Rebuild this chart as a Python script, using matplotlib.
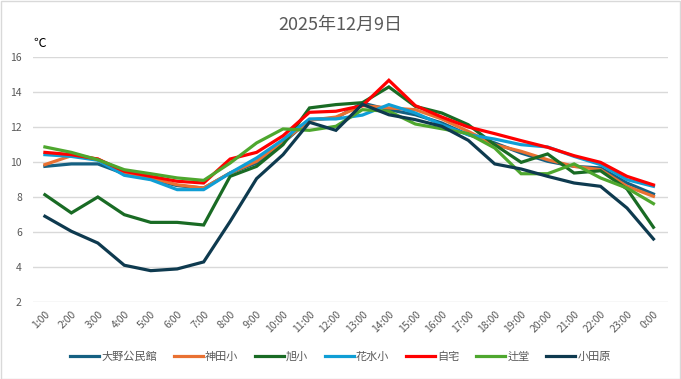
import matplotlib.pyplot as plt
import numpy as np

plt.rcParams['font.family'] = ['Noto Sans CJK JP', 'DejaVu Sans']

hours = [f"{h}:00" for h in range(1, 24)] + ["0:00"]

oono = [9.75, 9.89, 9.89, 9.33, 9.03, 8.65, 8.51, 9.37, 9.94, 11.09, 12.42, 12.51,
        13.37, 12.99, 12.7, 12.23, 11.56, 11.09, 10.51, 10.04, 9.75, 9.66, 8.8, 8.17]
kanda = [9.85, 10.36, 10.17, 9.41, 9.09, 8.7, 8.51, 9.37, 10.04, 11.18, 12.38, 12.57,
         13.22, 13.09, 12.99, 12.46, 11.75, 10.99, 10.61, 10.13, 9.75, 9.56, 8.61, 8.04]
asahi = [8.13, 7.09, 8.0, 6.99, 6.55, 6.55, 6.4, 9.18, 9.75, 10.99, 13.09, 13.28,
         13.39, 14.29, 13.18, 12.8, 12.13, 10.99, 9.98, 10.46, 9.37, 9.5, 8.46, 6.27]
hanamizu = [10.42, 10.32, 10.1, 9.24, 8.99, 8.42, 8.42, 9.37, 10.23, 11.28, 12.46, 12.46,
            12.68, 13.28, 12.8, 12.13, 11.56, 11.31, 10.99, 10.86, 10.32, 9.85, 8.99, 8.61]
jitaku = [10.55, 10.42, 10.17, 9.47, 9.18, 8.9, 8.8, 10.17, 10.55, 11.5, 12.84, 12.9,
          13.22, 14.67, 13.22, 12.57, 12.0, 11.62, 11.22, 10.84, 10.36, 9.98, 9.18, 8.69]
tsujido = [10.86, 10.55, 10.13, 9.56, 9.33, 9.09, 8.95, 9.94, 11.09, 11.89, 11.81, 12.04,
           12.99, 12.9, 12.17, 11.9, 11.62, 10.8, 9.33, 9.33, 9.89, 9.09, 8.51, 7.62]
odawara = [6.9, 6.04, 5.37, 4.1, 3.79, 3.89, 4.29, 6.6, 9.05, 10.42, 12.27, 11.81,
           13.3, 12.7, 12.42, 12.04, 11.24, 9.89, 9.6, 9.18, 8.8, 8.61, 7.37, 5.6]

names = ["大野公民館", "神田小", "旭小", "花水小", "自宅", "辻堂", "小田原"]
series = [oono, kanda, asahi, hanamizu, jitaku, tsujido, odawara]
colors = ["#156082", "#E97132", "#196B24", "#0F9ED5", "#FF0000", "#4EA72E", "#0E3A4F"]

fig = plt.figure(figsize=(6.81, 3.79), dpi=100)
ax = fig.add_axes([33 / 681, 1 - 302 / 379, 635 / 681, 245 / 379])

x = np.arange(len(hours))
for name, vals, c in zip(names, series, colors):
    ax.plot(x, vals, color=c, lw=2.3, label=name, solid_joinstyle='miter')

ax.set_ylim(2, 16)
ax.set_yticks(range(2, 17, 2))
ax.set_xlim(-0.45, len(hours) - 0.45)
ax.set_xticks(x)
ax.set_xticklabels(hours, rotation=45, ha='right', rotation_mode='anchor')
ax.grid(axis='y', color='#D9D9D9', lw=1)
ax.set_axisbelow(True)
for s in ax.spines.values():
    s.set_visible(False)
ax.tick_params(axis='both', length=0, labelsize=7.5, colors='#595959')
ax.tick_params(axis='x', pad=5)
ax.tick_params(axis='y', pad=8)

fig.text(33 / 681, 1 - 43 / 379, "℃", fontsize=9, color='#000000', va='center')
fig.text(0.5, 1 - 25 / 379, "2025年12月9日", fontsize=13, color='#595959',
         ha='center', va='center')

fig.legend(loc='center', bbox_to_anchor=(0.5, 1 - 357 / 379), ncol=7, frameon=False,
           fontsize=8, labelcolor='#595959', handlelength=2.6, handletextpad=0.2,
           columnspacing=1.5)

fig.patches.append(plt.Rectangle((0.001, 0.001), 0.998, 0.997, transform=fig.transFigure,
                                 fill=False, edgecolor='#D9D9D9', lw=1))

fig.savefig("out.png", dpi=100)
